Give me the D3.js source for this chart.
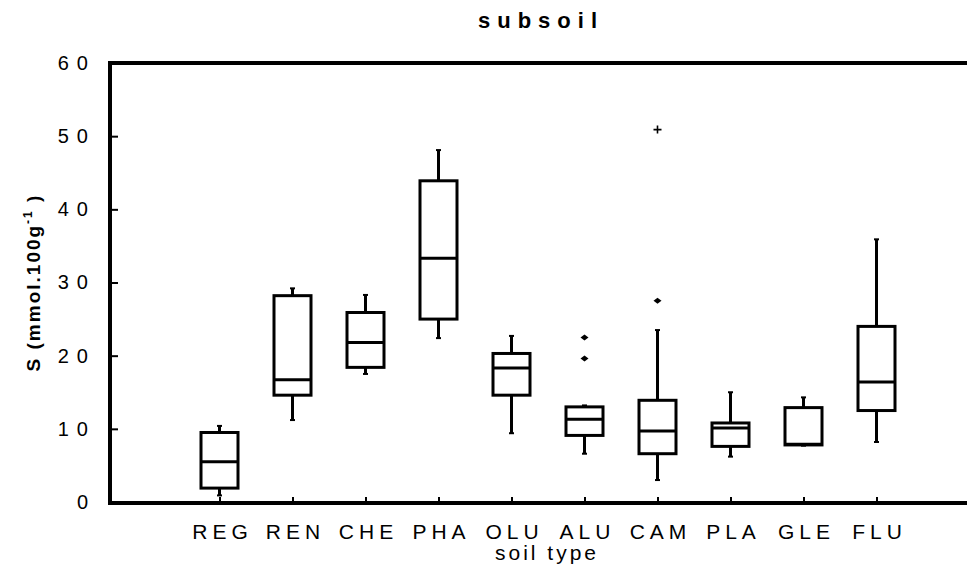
<!DOCTYPE html>
<html>
<head>
<meta charset="utf-8">
<script src="https://cdn.jsdelivr.net/npm/d3@7"></script>
<style>
  html, body { margin: 0; padding: 0; background: #fff; }
  svg { display: block; }
  text { font-family: "Liberation Sans", Arial, sans-serif; fill: #000; }
</style>
</head>
<body>
<script>
// Soil types along the x axis
const categories = ["REG", "REN", "CHE", "PHA", "OLU", "ALU", "CAM", "PLA", "GLE", "FLU"];

// Box-plot statistics for S (mmol.100g-1) in the subsoil
const whiskerLow  = [0.9, 11.2, 17.5, 22.4,  9.4,  6.6,  3.0,  6.2,  7.7,  8.2];
const quartile1   = [1.9, 14.6, 18.4, 25.0, 14.6,  9.1,  6.6,  7.6,  7.8, 12.5];
const medians     = [5.5, 16.7, 21.8, 33.3, 18.3, 11.3,  9.7, 10.1,  7.9, 16.4];
const quartile3   = [9.5, 28.2, 25.9, 43.9, 20.3, 13.0, 13.9, 10.8, 12.9, 24.0];
const whiskerHigh = [10.4, 29.2, 28.3, 48.1, 22.7, 13.2, 23.5, 15.0, 14.3, 35.9];

// Outliers (diamonds) and extremes (plus signs)
const outlierCats   = ["ALU", "ALU", "CAM"];
const outlierValues = [22.5, 19.6, 27.5];
const extremeCats   = ["CAM"];
const extremeValues = [50.9];

// Axis ticks
const yTicks = [0, 10, 20, 30, 40, 50, 60];

const W = 967, H = 567;
const plotLeft = 110, plotTop = 63, plotBottom = 502;

const svg = d3.select("body").append("svg")
  .attr("width", W).attr("height", H);

const x = d3.scalePoint().domain(categories).range([plotLeft, 986]).padding(1.5);
const y = d3.scaleLinear().domain([0, 60]).range([plotBottom, plotTop]);

const boxes = categories.map((c, i) => ({
  cat: c, lo: whiskerLow[i], q1: quartile1[i], med: medians[i], q3: quartile3[i], hi: whiskerHigh[i]
}));

// Frame: left, top, bottom lines (the right side runs off the canvas)
svg.append("path")
  .attr("d", `M${W},${plotTop}H${plotLeft}V${plotBottom + 1}H${W}`)
  .attr("stroke", "#000").attr("stroke-width", 4).attr("fill", "none")
  .attr("stroke-linecap", "square");

// Y axis ticks pointing inward, labels on the left
const yAxis = d3.axisLeft(y).tickValues(yTicks).tickSizeInner(-8).tickSizeOuter(0).tickPadding(22);
const gy = svg.append("g").attr("transform", `translate(${plotLeft},0)`).call(yAxis);
gy.select(".domain").remove();
gy.selectAll(".tick line").attr("stroke", "#000").attr("stroke-width", 2);
gy.selectAll(".tick text")
  .attr("font-size", 20).attr("letter-spacing", "8px")
  .attr("font-family", "Liberation Sans, Arial, sans-serif")
  .attr("fill", "#000")
  .attr("dx", 8);

// X axis ticks pointing inward, category labels below
const xAxis = d3.axisBottom(x).tickSizeInner(-6).tickSizeOuter(0).tickPadding(24);
const gx = svg.append("g").attr("transform", `translate(0,${plotBottom + 1})`).call(xAxis);
gx.select(".domain").remove();
gx.selectAll(".tick line").attr("stroke", "#000").attr("stroke-width", 2);
gx.selectAll(".tick text")
  .attr("font-size", 21).attr("letter-spacing", "5px")
  .attr("font-family", "Liberation Sans, Arial, sans-serif")
  .attr("fill", "#000")
  .attr("dx", 2.5).attr("dy", 0).attr("y", 36);

const half = 18.5;
const g = svg.append("g").attr("stroke", "#000").attr("fill", "none");

// Whiskers
g.selectAll("line.whisker-hi").data(boxes).join("line").attr("class", "whisker-hi")
  .attr("x1", d => x(d.cat)).attr("x2", d => x(d.cat))
  .attr("y1", d => y(d.q3)).attr("y2", d => y(d.hi)).attr("stroke-width", 3);
g.selectAll("line.whisker-lo").data(boxes).join("line").attr("class", "whisker-lo")
  .attr("x1", d => x(d.cat)).attr("x2", d => x(d.cat))
  .attr("y1", d => y(d.q1)).attr("y2", d => y(d.lo)).attr("stroke-width", 3);
// Whisker end nubs
g.selectAll("line.cap").data(boxes.flatMap(d => [{cat: d.cat, v: d.hi}, {cat: d.cat, v: d.lo}])).join("line")
  .attr("class", "cap")
  .attr("x1", d => x(d.cat) - 2.5).attr("x2", d => x(d.cat) + 2.5)
  .attr("y1", d => y(d.v)).attr("y2", d => y(d.v)).attr("stroke-width", 2);

// Boxes
g.selectAll("rect.box").data(boxes).join("rect").attr("class", "box")
  .attr("x", d => x(d.cat) - half).attr("width", half * 2)
  .attr("y", d => y(d.q3)).attr("height", d => y(d.q1) - y(d.q3))
  .attr("fill", "#fff").attr("stroke-width", 3);

// Medians
g.selectAll("line.median").data(boxes).join("line").attr("class", "median")
  .attr("x1", d => x(d.cat) - half).attr("x2", d => x(d.cat) + half)
  .attr("y1", d => y(d.med)).attr("y2", d => y(d.med)).attr("stroke-width", 3);

// Outliers as small diamonds
svg.append("g").selectAll("path").data(outlierCats.map((c, i) => ({cat: c, v: outlierValues[i]}))).join("path")
  .attr("d", d => { const cx = x(d.cat), cy = y(d.v); return `M${cx - 4},${cy}L${cx},${cy - 3}L${cx + 4},${cy}L${cx},${cy + 3}Z`; })
  .attr("fill", "#000");

// Extremes as plus signs
svg.append("g").selectAll("path").data(extremeCats.map((c, i) => ({cat: c, v: extremeValues[i]}))).join("path")
  .attr("d", d => { const cx = x(d.cat), cy = y(d.v); return `M${cx - 4},${cy}H${cx + 4}M${cx},${cy - 4}V${cy + 4}`; })
  .attr("stroke", "#000").attr("stroke-width", 1.6);

// Title
svg.append("text").attr("x", 541).attr("y", 28).attr("text-anchor", "middle")
  .attr("font-size", 22).attr("font-weight", "bold").attr("letter-spacing", "7px")
  .text("subsoil");

// X axis title
svg.append("text").attr("x", 547).attr("y", 560).attr("text-anchor", "middle")
  .attr("font-size", 21).attr("letter-spacing", "3px")
  .text("soil type");

// Y axis title with superscript
const yl = svg.append("text")
  .attr("transform", `translate(40,${(plotTop + plotBottom) / 2}) rotate(-90)`)
  .attr("text-anchor", "middle").attr("font-size", 19).attr("font-weight", "bold").attr("letter-spacing", "2px");
yl.append("tspan").text("S  (mmol.100g");
yl.append("tspan").attr("font-size", 12).attr("dy", -8).text("-1");
yl.append("tspan").attr("dy", 8).text(" )");
</script>
</body>
</html>
